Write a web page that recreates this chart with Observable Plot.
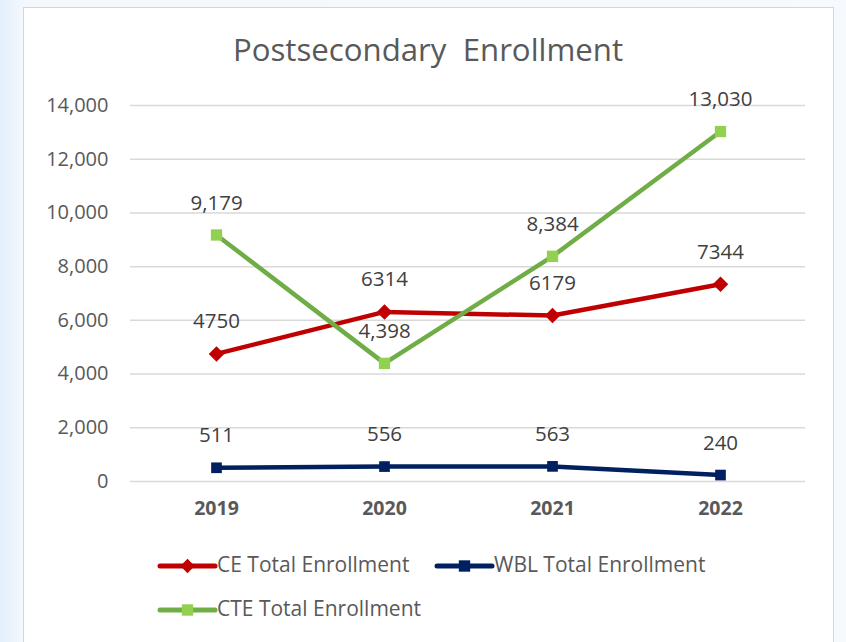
<!DOCTYPE html>
<html><head><meta charset="utf-8">
<script src="https://cdn.jsdelivr.net/npm/d3@7"></script>
<script src="https://cdn.jsdelivr.net/npm/@observablehq/plot@0.6"></script>
<style>
html,body{margin:0;padding:0;width:846px;height:642px;overflow:hidden;}
#bg{position:absolute;left:0;top:0;width:846px;height:642px;background:linear-gradient(90deg,#e3effb 0px,#f3f8fd 23px,#f6fafe 846px);}
#panel{position:absolute;left:23px;top:7px;width:809px;height:640px;background:#fff;border:1.5px solid #d6d6d6;}
#title{position:absolute;left:0;width:856px;top:28px;text-align:center;font-family:"Open Sans",sans-serif;font-size:31.2px;color:#595959;}
#chart{position:absolute;left:0;top:0;}
.leg{position:absolute;font-family:"Open Sans",sans-serif;font-size:21px;color:#595959;}
.leg svg{position:absolute;left:0;top:0;}
.leg span{position:absolute;white-space:nowrap;}
</style></head>
<body>
<div id="bg"></div>
<div id="panel"></div>
<div id="title">Postsecondary&nbsp; Enrollment</div>
<div id="chart"></div>
<div id="legend"></div>
<script>
const years = ["2019", "2020", "2021", "2022"];
const ceValues = [4750, 6314, 6179, 7344];
const wblValues = [511, 556, 563, 240];
const cteValues = [9179, 4398, 8384, 13030];
const seriesNames = ["CE Total Enrollment", "WBL Total Enrollment", "CTE Total Enrollment"];
const yTicks = [0, 2000, 4000, 6000, 8000, 10000, 12000, 14000];

const fmtComma = d3.format(",");
const rows = [];
years.forEach((y, i) => {
  rows.push({year: y, value: ceValues[i], series: seriesNames[0], label: String(ceValues[i])});
  rows.push({year: y, value: wblValues[i], series: seriesNames[1], label: fmtComma(wblValues[i])});
  rows.push({year: y, value: cteValues[i], series: seriesNames[2], label: fmtComma(cteValues[i])});
});
const lineColor = {[seriesNames[0]]: "#c00000", [seriesNames[1]]: "#002060", [seriesNames[2]]: "#70ad47"};
const markColor = {[seriesNames[0]]: "#c00000", [seriesNames[1]]: "#002060", [seriesNames[2]]: "#92d050"};
const markSym = {[seriesNames[0]]: "diamond2", [seriesNames[1]]: "square2", [seriesNames[2]]: "square2"};
const markR = {[seriesNames[0]]: 7, [seriesNames[1]]: 6.8, [seriesNames[2]]: 7.2};

const plot = Plot.plot({
  width: 846, height: 530,
  marginTop: 105, marginBottom: 49, marginLeft: 130, marginRight: 41,
  style: {background: "transparent", fontFamily: "'Open Sans', sans-serif", color: "#595959", overflow: "visible"},
  x: {type: "point", domain: years, padding: 0.5, label: null},
  y: {domain: [0, 14000], ticks: yTicks, label: null},
  marks: [
    Plot.gridY(yTicks, {stroke: "#d9d9d9", strokeOpacity: 1, strokeWidth: 1.5}),
    Plot.axisY(yTicks, {tickSize: 0, tickPadding: 22, tickFormat: d3.format(","), fontSize: 20, fill: "#595959", label: null}),
    Plot.axisX({tickSize: 0, tickPadding: 20, fontSize: 19.5, fontWeight: "bold", fill: "#595959", label: null}),
    ...seriesNames.map(s => Plot.line(rows.filter(r => r.series === s), {x: "year", y: "value", stroke: lineColor[s], strokeWidth: 4.5, strokeLinejoin: "round", strokeLinecap: "round"})),
    ...seriesNames.map(s => Plot.dot(rows.filter(r => r.series === s), {x: "year", y: "value", symbol: markSym[s], r: markR[s], fill: markColor[s], stroke: "none"})),
    Plot.text(rows, {x: "year", y: "value", text: "label", dy: -32, fontSize: 20.5, fill: "#404040"})
  ]
});
document.getElementById("chart").appendChild(plot);

// legend
const legItems = [
  {name: seriesNames[0], x: 156, y: 566},
  {name: seriesNames[1], x: 433, y: 566},
  {name: seriesNames[2], x: 156, y: 610}
];
const leg = document.getElementById("legend");
legItems.forEach(it => {
  const d = document.createElement("div");
  d.className = "leg";
  d.style.left = it.x + "px"; d.style.top = (it.y - 15) + "px";
  d.style.width = "340px"; d.style.height = "30px";
  const sym = markSym[it.name] === "diamond2" ? d3.symbolDiamond2 : d3.symbolSquare2;
  const size = markSym[it.name] === "diamond2" ? 130 : 165;
  const path = d3.symbol(sym, size)();
  d.innerHTML = `<svg width="64" height="30"><line x1="4" x2="59" y1="15" y2="15" stroke="${lineColor[it.name]}" stroke-width="5" stroke-linecap="round"/><path transform="translate(31.5,15)" d="${path}" fill="${markColor[it.name]}"/></svg><span style="left:61px;top:-1px">${it.name}</span>`;
  leg.appendChild(d);
});
</script>
</body></html>
